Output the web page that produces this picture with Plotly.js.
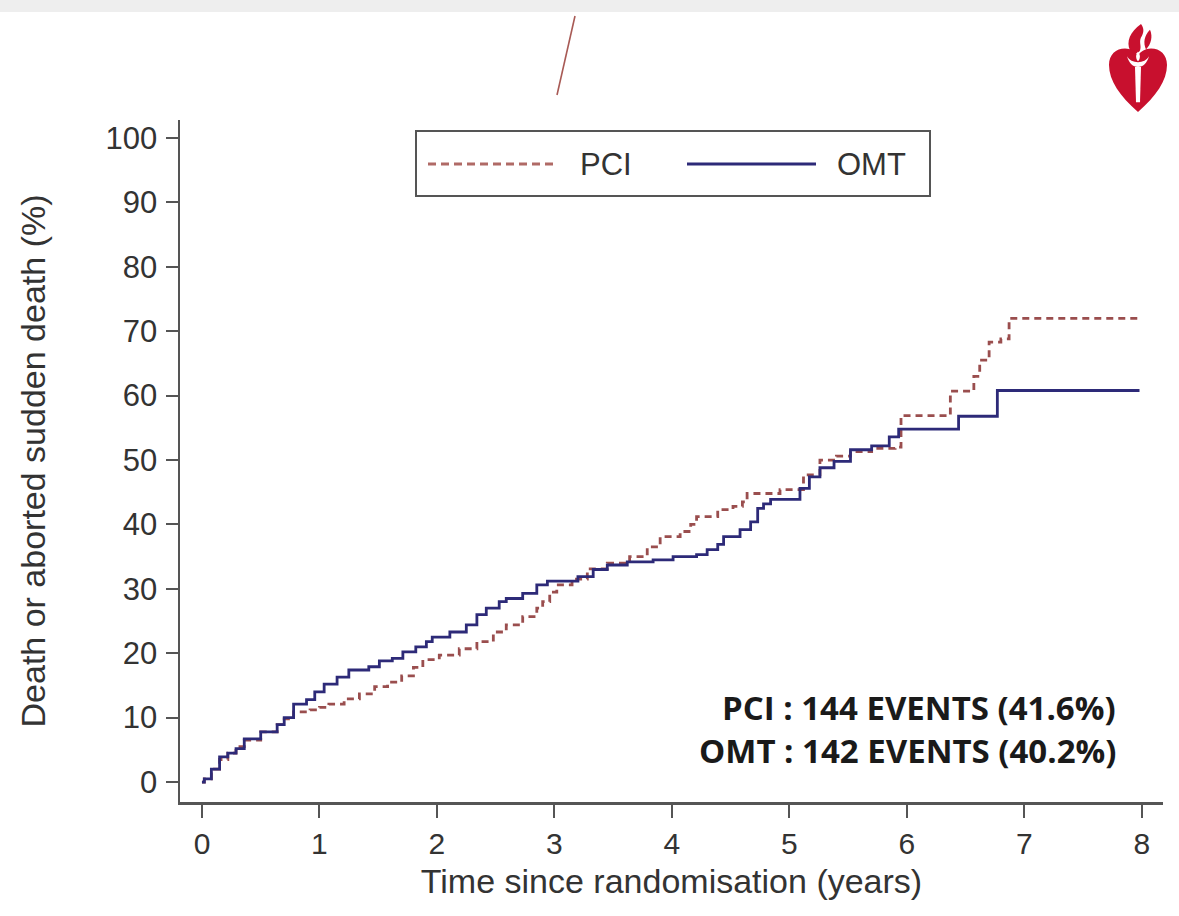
<!DOCTYPE html>
<html>
<head>
<meta charset="utf-8">
<script src="https://cdn.plot.ly/plotly-3.0.1.min.js"></script>
<style>
  html, body { margin: 0; padding: 0; background: #ffffff; }
  #chart { width: 1179px; height: 916px; }
</style>
</head>
<body>
<div id="chart"></div>
<script>
// ---- Data ----
const seriesNames = ["PCI", "OMT"];

// OMT: cumulative incidence (%), step after each time
const omtTime = [0, 0.02, 0.08, 0.15, 0.22, 0.29, 0.36, 0.5, 0.64, 0.7, 0.78, 0.89, 0.96, 1.04, 1.15, 1.25, 1.42, 1.51, 1.62, 1.71, 1.82, 1.91, 1.96, 2.11, 2.25, 2.34, 2.42, 2.53, 2.59, 2.73, 2.85, 2.94, 3.2, 3.33, 3.45, 3.62, 3.84, 4.01, 4.21, 4.3, 4.39, 4.44, 4.58, 4.67, 4.73, 4.78, 4.84, 5.09, 5.17, 5.26, 5.38, 5.52, 5.7, 5.85, 5.93, 6.44, 6.77, 7.98];
const omtPct  = [0, 0.5, 2, 3.9, 4.5, 5.2, 6.7, 7.8, 8.9, 10, 12.1, 12.8, 14, 15.2, 16.3, 17.4, 17.9, 18.8, 19.2, 20.2, 21, 21.8, 22.5, 23.3, 24.4, 26, 27, 28, 28.5, 29.3, 30.6, 31.2, 31.9, 33, 33.7, 34.2, 34.5, 35, 35.3, 36.1, 36.9, 38.1, 39.2, 40.4, 42.5, 43.2, 43.9, 45.6, 47.4, 48.8, 49.8, 51.6, 52.2, 53.6, 54.8, 56.8, 60.8, 60.8];

// PCI
const pciTime = [0, 0.02, 0.08, 0.15, 0.22, 0.29, 0.36, 0.5, 0.64, 0.7, 0.78, 0.92, 1.0, 1.08, 1.21, 1.34, 1.47, 1.58, 1.7, 1.8, 1.88, 2.02, 2.19, 2.34, 2.48, 2.59, 2.73, 2.85, 2.9, 2.96, 3.02, 3.15, 3.28, 3.45, 3.64, 3.79, 3.9, 4.07, 4.16, 4.21, 4.39, 4.52, 4.6, 4.64, 4.92, 5.12, 5.26, 5.4, 5.52, 5.7, 5.9, 5.95, 6.37, 6.57, 6.62, 6.7, 6.8, 6.87, 8.0];
const pciPct  = [0, 0.5, 2, 3.5, 4.5, 5.5, 6.5, 7.8, 8.9, 9.8, 10.9, 11.2, 11.6, 12.1, 12.9, 13.7, 14.8, 15.5, 16.5, 17.8, 19, 19.7, 20.7, 21.8, 23.3, 24.4, 25.7, 27, 28, 29.5, 30.6, 31.5, 33.1, 34, 35, 36.5, 38.1, 38.9, 40, 41.2, 42.3, 42.8, 43.5, 44.8, 45.4, 47.7, 50, 50.6, 51.3, 51.8, 52, 56.9, 60.7, 63, 65.5, 68.3, 68.8, 72, 72];

const xTickVals = [0, 1, 2, 3, 4, 5, 6, 7, 8];
const yTickVals = [0, 10, 20, 30, 40, 50, 60, 70, 80, 90, 100];

const xTitle = "Time since randomisation (years)";
const yTitle = "Death or aborted sudden death (%)";
const eventLines = ["PCI : 144 EVENTS (41.6%)", "OMT : 142 EVENTS (40.2%)"];

// ---- Styles ----
const pciColor = "#9a4e4e";
const omtColor = "#2d2a78";
const axisColor = "#555555";
const textColor = "#333333";
const baseFont = "Liberation Sans, Arial, Helvetica, sans-serif";

const traces = [
  {
    x: pciTime, y: pciPct, name: seriesNames[0], type: "scatter", mode: "lines",
    line: { shape: "hv", color: pciColor, width: 2.8, dash: "7px,5px" },
    showlegend: false, hoverinfo: "x+y+name"
  },
  {
    x: omtTime, y: omtPct, name: seriesNames[1], type: "scatter", mode: "lines",
    line: { shape: "hv", color: omtColor, width: 2.8 },
    showlegend: false, hoverinfo: "x+y+name"
  }
];

// logo as inline SVG (heart with torch)
const logoSvg =
  '<svg xmlns="http://www.w3.org/2000/svg" viewBox="0 0 60 90">' +
  '<path d="M33,0 C22,8 18,18 22,27 C24,31 30,31 32,27 C34,22 30,18 34,12 C36,8 36,4 33,0 Z" fill="#c8102e"/>' +
  '<path d="M42,6 C36,12 35,20 38,26 C43,21 45,13 42,6 Z" fill="#c8102e"/>' +
  '<path d="M30,90 C12,74 1,58 1,42 C1,31 8,25 17,25 C23,25 27,28 30,32 C33,28 37,25 43,25 C52,25 59,31 59,42 C59,58 48,74 30,90 Z" fill="#c8102e"/>' +
  '<path d="M19,33 C23,41 37,41 41,33 C39,40 35,44 30,44 C25,44 21,40 19,33 Z" fill="#ffffff"/>' +
  '<path d="M27,44 L33,44 L32,80 L28,80 Z" fill="#ffffff"/>' +
  '<path d="M30,28 C27,32 28,36 30,38 C32,36 33,32 30,28 Z" fill="#ffffff"/>' +
  '</svg>';
const logoUri = "data:image/svg+xml;base64," + btoa(logoSvg);

// helpers to convert page pixels to paper coords (plot area 180..1163 x 120..802)
const L = 180, R = 1163, T = 120, B = 802;
const px = v => (v - L) / (R - L);
const py = v => (B - v) / (B - T);

const layout = {
  width: 1179, height: 916,
  margin: { l: L, r: 1179 - R, t: T, b: 916 - B },
  paper_bgcolor: "#ffffff",
  plot_bgcolor: "#ffffff",
  font: { family: baseFont, color: textColor, size: 26 },
  showlegend: false,
  xaxis: {
    range: [-0.187, 8.18],
    tickvals: xTickVals,
    ticktext: xTickVals.map(String),
    ticks: "outside", ticklen: 13, tickwidth: 2, tickcolor: axisColor,
    ticklabelstandoff: 0,
    showline: true, linecolor: axisColor, linewidth: 2.5,
    showgrid: false, zeroline: false,
    tickfont: { size: 30, color: textColor, family: baseFont },
    title: { text: xTitle, font: { size: 34, color: textColor, family: baseFont }, standoff: 11 }
  },
  yaxis: {
    range: [-3.1, 102.8],
    tickvals: yTickVals,
    ticktext: yTickVals.map(String),
    ticks: "outside", ticklen: 12, tickwidth: 2, tickcolor: axisColor,
    ticklabelstandoff: 2,
    showline: true, linecolor: axisColor, linewidth: 2.5,
    showgrid: false, zeroline: false,
    tickfont: { size: 31, color: textColor, family: baseFont },
    title: { text: yTitle, font: { size: 34, color: textColor, family: baseFont }, standoff: 50 }
  },
  shapes: [
    // top grey strip
    { type: "rect", xref: "paper", yref: "paper", x0: px(0), x1: px(1179), y0: py(12), y1: py(0),
      fillcolor: "#eeeeee", line: { width: 0 }, layer: "below" },
    // thin red stroke near top
    { type: "line", xref: "paper", yref: "paper", x0: px(575), y0: py(16), x1: px(557), y1: py(95),
      line: { color: "#a85a55", width: 1.6 } },
    // legend box
    { type: "rect", xref: "paper", yref: "paper", x0: px(416), x1: px(930), y0: py(196), y1: py(131),
      fillcolor: "#ffffff", line: { color: "#555555", width: 2 } },
    // legend PCI sample
    { type: "line", xref: "paper", yref: "paper", x0: px(428), x1: px(557), y0: py(164), y1: py(164),
      line: { color: "#b06a66", width: 2.8, dash: "8px,5px" } },
    // legend OMT sample
    { type: "line", xref: "paper", yref: "paper", x0: px(687), x1: px(816), y0: py(164), y1: py(164),
      line: { color: omtColor, width: 2.8 } }
  ],
  annotations: [
    { xref: "paper", yref: "paper", x: px(578), y: py(164), xanchor: "left", yanchor: "middle",
      text: seriesNames[0], showarrow: false, font: { size: 31, color: textColor, family: baseFont } },
    { xref: "paper", yref: "paper", x: px(835), y: py(164), xanchor: "left", yanchor: "middle",
      text: seriesNames[1], showarrow: false, font: { size: 31, color: textColor, family: baseFont } },
    { xref: "paper", yref: "paper", x: px(1118), y: py(707), xanchor: "right", yanchor: "middle",
      text: "<b>" + eventLines[0] + "</b>", showarrow: false,
      font: { size: 33, color: "#1a1a1a", family: "Open Sans, sans-serif" } },
    { xref: "paper", yref: "paper", x: px(1118), y: py(750), xanchor: "right", yanchor: "middle",
      text: "<b>" + eventLines[1] + "</b>", showarrow: false,
      font: { size: 33, color: "#1a1a1a", family: "Open Sans, sans-serif" } }
  ],
  images: [
    { source: logoUri, xref: "paper", yref: "paper", x: px(1108), y: py(24),
      sizex: 60 / (R - L), sizey: 88 / (B - T), xanchor: "left", yanchor: "top",
      sizing: "stretch", layer: "above" }
  ]
};

Plotly.newPlot("chart", traces, layout, { displayModeBar: false, staticPlot: true });
</script>
</body>
</html>
